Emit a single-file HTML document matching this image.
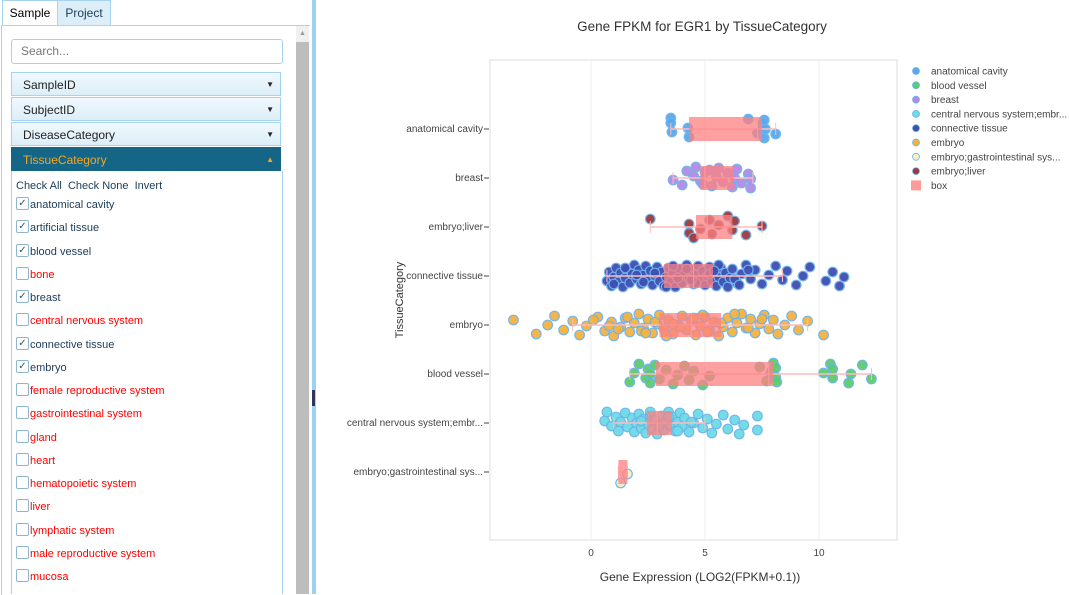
<!DOCTYPE html>
<html><head><meta charset="utf-8">
<style>
body{margin:0;width:1069px;height:594px;overflow:hidden;background:#fff;font-family:"Liberation Sans",sans-serif;position:relative}
#left{position:absolute;left:0;top:0;width:310px;height:594px}
.tab{position:absolute;top:0;height:25px;font-size:12px;line-height:25px;text-align:center;border:1px solid #a6d3ee;border-bottom:none}
#panel{position:absolute;left:1px;top:25px;width:308px;height:569px;border-top:1px solid #a6d3ee;border-left:1px solid #a6d3ee}
.acc{position:absolute;left:11px;width:270px;height:24px;border:1px solid #a6d3ee;background:linear-gradient(#f0f8fd,#dceef8);font-size:12px;line-height:24px;color:#222;padding-left:11px;box-sizing:border-box}
.acc span{position:absolute;right:6px;font-size:8px}
.item{position:absolute;left:16px;font-size:11px;height:14px;line-height:14px}
.cb{display:inline-block;width:11px;height:11px;border:1px solid #8fb6cc;border-radius:2px;vertical-align:middle;margin-top:-3px;margin-right:1px;font-size:10px;line-height:11px;text-align:center;color:#355}
</style></head><body>
<div id="left">
<div class="tab" style="left:2px;width:54px;background:#fff;">Sample</div>
<div class="tab" style="left:57px;width:52px;background:#dceef8;color:#1b3b58">Project</div>
<div id="panel"></div>
<div style="position:absolute;left:11px;top:39px;width:272px;height:25px;border:1px solid #a6d3ee;border-radius:3px;box-sizing:border-box;font-size:12px;color:#777;line-height:23px;padding-left:9px">Search...</div>
<div class="acc" style="top:72px">SampleID<span>▼</span></div>
<div class="acc" style="top:97px">SubjectID<span>▼</span></div>
<div class="acc" style="top:122px">DiseaseCategory<span>▼</span></div>
<div class="acc" style="top:147px;background:#156587;color:#f5a623;border-color:#156587">TissueCategory<span style="color:#f5a623">▲</span></div>
<div style="position:absolute;left:11px;top:171px;width:270px;height:423px;border-left:1px solid #a6d3ee;border-right:1px solid #a6d3ee"></div>
<div style="position:absolute;left:16px;top:180px;font-size:11px;color:#1b3b58">Check All&nbsp; Check None&nbsp; Invert</div>
<div id="items"></div>
<div style="position:absolute;left:296px;top:26px;width:13px;height:568px;background:#f0f0f0"><div style="position:absolute;top:16px;width:13px;height:552px;background:#bdbdbd"></div><div style="position:absolute;top:4px;left:3px;font-size:7px;color:#999">▲</div></div>
</div>
<div style="position:absolute;left:312px;top:0;width:4px;height:594px;background:#9bd3f3"></div>
<div style="position:absolute;left:312px;top:390px;width:3px;height:16px;background:#335" ></div>
<svg id="chart" style="position:absolute;left:0;top:0" width="1069" height="594"></svg>
<script>
const labels=["anatomical cavity","artificial tissue","blood vessel","bone","breast","central nervous system","connective tissue","embryo","female reproductive system","gastrointestinal system","gland","heart","hematopoietic system","liver","lymphatic system","male reproductive system","mucosa"];
const checked=[1,1,1,0,1,0,1,1,0,0,0,0,0,0,0,0,0];
const itemsEl=document.getElementById('items');
labels.forEach((l,i)=>{const d=document.createElement('div');d.className='item';d.style.top=(198+i*23.25)+'px';d.style.color=checked[i]?'#1b3b58':'#ff0000';


d.innerHTML='<span class="cb">'+(checked[i]?'✓':'')+'</span>'+l;itemsEl.appendChild(d);});

// ---- chart data ----
const categories=["anatomical cavity","breast","embryo;liver","connective tissue","embryo","blood vessel","central nervous system;embr...","embryo;gastrointestinal sys..."];
const boxQ1=[4.3,4.8,4.6,3.2,3.0,2.85,2.45,1.2];
const boxQ3=[7.5,6.27,6.2,5.35,5.7,8.0,3.55,1.6];
const boxMed=[7.3,5.0,5.1,4.5,4.4,7.8,2.9,1.3];
const whiskLo=[3.5,3.6,2.6,0.7,-0.8,1.7,1.0,1.2];
const whiskHi=[8.1,7.1,7.5,8.4,9.5,12.3,5.0,1.6];
const ptsAnat=[3.5,3.55,3.5,4.3,4.25,6.9,7.3,7.5,7.6,7.65,7.6,8.1];
const ptsBreast=[3.6,4.2,4.0,4.5,4.6,4.8,5.0,5.3,5.5,5.6,5.8,6.0,6.2,6.3,6.4,6.6,6.9,7.0,7.0,5.2,4.9];
const ptsLiver=[2.6,4.3,4.3,4.5,4.8,5.2,5.3,5.6,6.0,6.2,6.3,6.8,7.5];
const ptsConn=[0.7,0.8,0.9,1.0,1.1,1.2,1.3,1.4,1.5,1.6,1.7,1.8,1.9,2.0,2.1,2.2,2.3,2.4,2.5,2.6,2.7,2.8,2.9,3.0,3.1,3.2,3.3,3.4,3.5,3.6,3.7,3.8,3.9,4.0,4.1,4.2,4.3,4.4,4.5,4.6,4.7,4.8,4.9,5.0,5.1,5.2,5.3,5.4,5.5,5.6,5.7,5.8,5.9,6.0,6.1,6.2,6.4,6.6,6.8,7.0,7.2,7.5,7.8,8.1,8.4,8.6,9.0,9.3,9.6,10.3,10.6,10.9,11.1,1.5,2.3,2.8,3.3,3.8,4.2,4.6,5.2,5.6,6.3,6.9,1.0,2.0,3.6,4.4,5.4,6.5];
const ptsEmb=[-3.4,-2.4,-1.9,-1.6,-1.2,-0.8,-0.5,-0.2,0.3,0.6,0.9,1.0,1.3,1.5,1.7,1.9,2.1,2.3,2.5,2.7,2.9,3.0,3.2,3.4,3.6,3.8,4.0,4.2,4.4,4.6,4.8,5.0,5.2,5.4,5.6,5.8,6.0,6.2,6.4,6.6,6.8,7.0,7.2,7.4,7.6,7.8,8.0,8.2,8.5,8.8,9.1,9.5,10.2,0.8,1.6,2.2,2.8,3.3,3.9,4.5,5.1,5.7,6.3,6.9,7.5,2.4,3.6,4.9,1.2,0.1];
const ptsBlood=[1.7,1.9,2.1,2.4,2.5,2.6,2.6,2.8,3.0,3.3,3.6,3.8,4.1,4.3,4.5,4.9,5.2,7.4,7.7,7.9,8.0,8.1,8.1,8.15,10.2,10.5,10.6,10.6,11.3,11.4,11.9,12.3];
const ptsCns=[0.6,0.7,0.9,1.1,1.2,1.3,1.5,1.6,1.8,1.9,2.0,2.1,2.2,2.3,2.4,2.5,2.6,2.7,2.8,2.9,3.0,3.1,3.2,3.3,3.4,3.5,3.6,3.7,3.8,3.9,4.0,4.1,4.3,4.5,4.7,4.9,5.1,5.3,5.5,5.8,6.0,6.3,6.5,6.7,7.3,7.3,2.2,2.6,3.0,3.4,3.8,4.4];
const ptsGi=[1.3,1.6];
const allPts=[ptsAnat,ptsBreast,ptsLiver,ptsConn,ptsEmb,ptsBlood,ptsCns,ptsGi];
const ptColors=["#5aa9f0","#b48ae6","#9b3b3f","#3f4fb3","#f5b23f","#5ccc6a","#6cdce6","#f4efc4"];
const xTicks=[0,5,10];
const legendNames=["anatomical cavity","blood vessel","breast","central nervous system;embr...","connective tissue","embryo","embryo;gastrointestinal sys...","embryo;liver","box"];
const legendColors=["#5aa9f0","#5ccc6a","#b48ae6","#6cdce6","#3f4fb3","#f5b23f","#f4efc4","#9b3b3f","#ff9a9a"];

const PL=490,PR=897,PT=60,PB=540;
const xs=v=>591+v*22.8;
const ys=i=>129+i*49;
const svg=document.getElementById('chart');const NS='http://www.w3.org/2000/svg';
function mk(t,a,p){const e=document.createElementNS(NS,t);for(const k in a)e.setAttribute(k,a[k]);(p||svg).appendChild(e);return e;}
const frame=mk('rect',{x:PL,y:PT,width:PR-PL,height:PB-PT,fill:'none',stroke:'#ddd'});


xTicks.forEach(t=>{const g=mk('line',{x1:xs(t),x2:xs(t),y1:PT,y2:PB,stroke:'#eee'});


const tx=mk('text',{x:xs(t),y:556,'font-size':10,'text-anchor':'middle',fill:'#444'});tx.textContent=t;

});
categories.forEach((c,i)=>{const tx=mk('text',{x:483,y:ys(i)+3,'font-size':10,'text-anchor':'end',fill:'#444'});tx.textContent=c;


mk('line',{x1:484,x2:489,y1:ys(i),y2:ys(i),stroke:'#444'});});
function jit(i,k){return (((i*37+k*13)%23)/22-0.5)*22;}
categories.forEach((c,k)=>{const g=mk('g',{});


allPts[k].forEach((v,i)=>{const p=mk('circle',{cx:xs(v),cy:ys(k)+jit(i,k),r:4.8,fill:ptColors[k],stroke:'#6db3ea','stroke-width':1.2,opacity:0.95},g);

});});
categories.forEach((c,k)=>{const y=ys(k);
mk('line',{x1:xs(whiskLo[k]),x2:xs(whiskHi[k]),y1:y,y2:y,stroke:'#ffbcbc','stroke-width':1.5});
mk('line',{x1:xs(whiskLo[k]),x2:xs(whiskLo[k]),y1:y-6,y2:y+6,stroke:'#ffbcbc'});
mk('line',{x1:xs(whiskHi[k]),x2:xs(whiskHi[k]),y1:y-6,y2:y+6,stroke:'#ffbcbc'});
const b=mk('rect',{x:xs(boxQ1[k]),y:y-12,width:xs(boxQ3[k])-xs(boxQ1[k]),height:24,fill:'#ff8080','fill-opacity':0.75});


mk('line',{x1:xs(boxMed[k]),x2:xs(boxMed[k]),y1:y-12,y2:y+12,stroke:'#ff9a9a','stroke-width':1});});
legendNames.forEach((n,i)=>{const y=71+i*14.3;
const g=mk('g',{});


if(n==='box')mk('rect',{x:911,y:y-5,width:10,height:10,fill:legendColors[i]},g);
else mk('circle',{cx:916,cy:y,r:3.5,fill:legendColors[i],stroke:'#6db3ea','stroke-width':0.8},g);
const t=mk('text',{x:931,y:y+3.5,'font-size':10,fill:'#444'},g);t.textContent=n;});
const ti=mk('text',{x:702,y:31,'font-size':13.5,'text-anchor':'middle',fill:'#333'});ti.textContent='Gene FPKM for EGR1 by TissueCategory';


const xt=mk('text',{x:700,y:581,'font-size':12,'text-anchor':'middle',fill:'#333'});xt.textContent='Gene Expression (LOG2(FPKM+0.1))';


const yt=mk('text',{x:403,y:300,'font-size':11,'text-anchor':'middle',fill:'#333',transform:'rotate(-90 403 300)'});yt.textContent='TissueCategory';


</script>
</body></html>
